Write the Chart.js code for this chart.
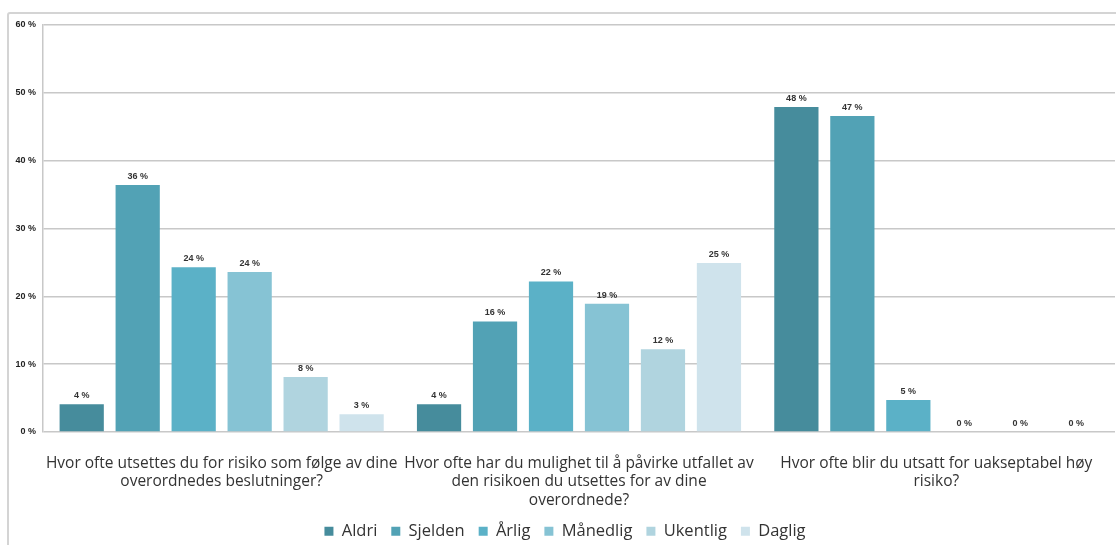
<!DOCTYPE html>
<html>
<head>
<meta charset="utf-8">
<script src="https://cdn.jsdelivr.net/npm/chart.js@4.4.1/dist/chart.umd.min.js"></script>
<style>
  html, body { margin: 0; padding: 0; background: #fff; }
  #frame { position: absolute; left: 7px; top: 12px; width: 1120px; height: 540px; border: 2px solid #d4d4d4; border-radius: 3px; }
  #wrap { position: absolute; left: 0; top: 0; width: 1116px; height: 545px; }
</style>
</head>
<body>
<div id="frame"></div>
<div id="wrap"><canvas id="chart"></canvas></div>
<script>
// categories (questions)
const questions = [
  ['Hvor ofte utsettes du for risiko som følge av dine', 'overordnedes beslutninger?'],
  ['Hvor ofte har du mulighet til å påvirke utfallet av', 'den risikoen du utsettes for av dine', 'overordnede?'],
  ['Hvor ofte blir du utsatt for uakseptabel høy', 'risiko?']
];

// series values, % per question
const aldri    = [4.1, 4.1, 47.9];
const sjelden  = [36.4, 16.3, 46.6];
const arlig    = [24.3, 22.2, 4.7];
const manedlig = [23.6, 18.9, 0];
const ukentlig = [8.1, 12.2, 0];
const daglig   = [2.6, 24.9, 0];

const seriesNames = ['Aldri', 'Sjelden', 'Årlig', 'Månedlig', 'Ukentlig', 'Daglig'];
const seriesColors = ['#468c9c', '#52a2b5', '#5bb1c7', '#86c3d4', '#b0d4df', '#cfe3ec'];
const yTicks = [0, 10, 20, 30, 40, 50, 60];

const allSeries = [aldri, sjelden, arlig, manedlig, ukentlig, daglig];

// labels above each bar
const barLabels = {
  id: 'barLabels',
  afterDatasetsDraw(chart) {
    const ctx = chart.ctx;
    ctx.save();
    ctx.font = 'bold 9px "Liberation Sans", Arial, sans-serif';
    ctx.fillStyle = '#333';
    ctx.textAlign = 'center';
    ctx.textBaseline = 'bottom';
    chart.data.datasets.forEach((ds, i) => {
      chart.getDatasetMeta(i).data.forEach((bar, j) => {
        ctx.fillText(`${Math.round(ds.data[j])} %`, bar.x, bar.y - 4);
      });
    });
    ctx.restore();
  }
};

new Chart(document.getElementById('chart').getContext('2d'), {
  type: 'bar',
  data: {
    labels: questions,
    datasets: allSeries.map((d, i) => ({
      label: seriesNames[i],
      data: d,
      backgroundColor: seriesColors[i],
      borderWidth: 0,
      categoryPercentage: 0.94,
      barPercentage: 0.79
    }))
  },
  options: {
    responsive: true,
    maintainAspectRatio: false,
    animation: false,
    layout: { padding: { left: 15, right: 1, top: 25, bottom: 0 } },
    plugins: {
      legend: {
        position: 'bottom',
        maxHeight: 36,
        labels: {
          color: '#333',
          font: { size: 16.5, family: '"Open Sans", sans-serif' },
          boxWidth: 9,
          boxHeight: 9,
          padding: 14
        }
      },
      tooltip: { enabled: false }
    },
    scales: {
      x: {
        afterFit: s => { s.height = 77; },
        grid: { display: false },
        border: { display: false },
        ticks: {
          color: '#333',
          font: { size: 15.5, family: '"Open Sans", sans-serif', lineHeight: 1.2 },
          padding: 14,
          maxRotation: 0
        }
      },
      y: {
        min: 0,
        max: 60,
        afterFit: s => { s.width = 28; },
        afterBuildTicks: s => { s.ticks = yTicks.map(v => ({ value: v })); },
        grid: { color: '#c8c8c8', lineWidth: 1.5, drawTicks: false },
        border: { display: true, color: '#c8c8c8', width: 1.5 },
        ticks: {
          color: '#222',
          font: { size: 9, weight: 'bold', family: '"Liberation Sans", Arial, sans-serif' },
          padding: 7,
          callback: v => `${v} %`
        }
      }
    }
  },
  plugins: [barLabels]
});
</script>
</body>
</html>
